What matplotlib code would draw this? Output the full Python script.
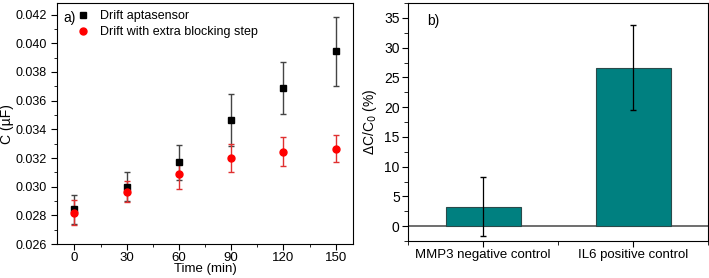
import matplotlib
matplotlib.use("Agg")
import matplotlib.pyplot as plt
from matplotlib.ticker import MultipleLocator, FormatStrFormatter
from matplotlib.lines import Line2D

plt.rcParams['font.family'] = ['Liberation Sans', 'DejaVu Sans']
plt.rcParams['font.size'] = 9

time = [0, 30, 60, 90, 120, 150]
drift_apt = [0.02843, 0.0300, 0.0317, 0.03467, 0.03689, 0.03945]
drift_apt_err = [0.0010, 0.0010, 0.0012, 0.0018, 0.0018, 0.0024]
drift_block = [0.0282, 0.02965, 0.03087, 0.03199, 0.03243, 0.03264]
drift_block_err = [0.0009, 0.00075, 0.0010, 0.0010, 0.0010, 0.00095]

controls = ["MMP3 negative control", "IL6 positive control"]
delta = [3.3, 26.6]
delta_err = [5.0, 7.15]

W, H = 709, 278
fig = plt.figure(figsize=(7.09, 2.78), dpi=100)
ax1 = fig.add_axes([0.0804, 0.122, 0.4176, 0.867])
ax2 = fig.add_axes([0.5755, 0.133, 0.4231, 0.856])

ax1.errorbar(time, drift_apt, yerr=drift_apt_err, fmt='s', color='black',
             ecolor='#444444', elinewidth=1, capsize=2, ms=5)
ax1.errorbar(time, drift_block, yerr=drift_block_err, fmt='o', color='red',
             ecolor='#e03030', elinewidth=1, capsize=2, ms=5)
ax1.set_xlim(-10, 160)
ax1.set_ylim(0.026, 0.0428)
ax1.set_xticks(time)
ax1.xaxis.set_minor_locator(MultipleLocator(15))
ax1.yaxis.set_major_locator(MultipleLocator(0.002))
ax1.yaxis.set_minor_locator(MultipleLocator(0.001))
ax1.yaxis.set_major_formatter(FormatStrFormatter('%.3f'))
ax1.set_xlabel('Time (min)', labelpad=-1, fontsize=9.5)
ax1.set_ylabel('C (µF)', labelpad=1, fontsize=10)
ax1.tick_params(which='both', direction='out')
ax1.tick_params(axis='x', pad=2, labelsize=9.5)
ax1.tick_params(axis='y', pad=3.5)
ax1.tick_params(which='major', length=4)
ax1.tick_params(which='minor', length=2)
handles = [Line2D([], [], ls='none', marker='s', color='black', ms=5),
           Line2D([], [], ls='none', marker='o', color='red', ms=5)]
ax1.legend(handles, ['Drift aptasensor', 'Drift with extra blocking step'],
           loc='upper left', bbox_to_anchor=(71.5 / W, 1 - 5 / H),
           bbox_transform=fig.transFigure, frameon=False,
           handletextpad=0.9, borderaxespad=0, borderpad=0.4,
           labelspacing=0.35, handlelength=1.0, fontsize=9)
fig.text(63 / W, 1 - 18 / H, 'a)', fontsize=10, va='center', ha='left')

xpos = [1, 2]
ax2.axhline(0, color='#555555', lw=1.2, zorder=1)
ax2.bar(xpos, delta, width=0.5, color='#008080', edgecolor='#2a4a4a', lw=0.8, zorder=2)
ax2.errorbar(xpos, delta, yerr=delta_err, fmt='none', ecolor='black', elinewidth=0.9,
             capsize=2.5, zorder=3)
ax2.set_xlim(0.5, 2.5)
ax2.set_ylim(-2.5, 37.5)
ax2.set_xticks(xpos)
ax2.set_xticklabels(controls, fontsize=9.5)
ax2.set_xticks([0.5, 1.5, 2.5], minor=True)
ax2.yaxis.set_major_locator(MultipleLocator(5))
ax2.yaxis.set_minor_locator(MultipleLocator(2.5))
ax2.set_ylabel('ΔC/C$_0$ (%)', labelpad=4, fontsize=10)
ax2.tick_params(which='both', direction='out', pad=2)
ax2.tick_params(axis='y', labelsize=10)
ax2.tick_params(which='major', length=4)
ax2.tick_params(which='minor', length=3)
ax2.text(0.065, 0.925, 'b)', transform=ax2.transAxes, fontsize=10, va='center')

fig.savefig('out.png', dpi=100)
